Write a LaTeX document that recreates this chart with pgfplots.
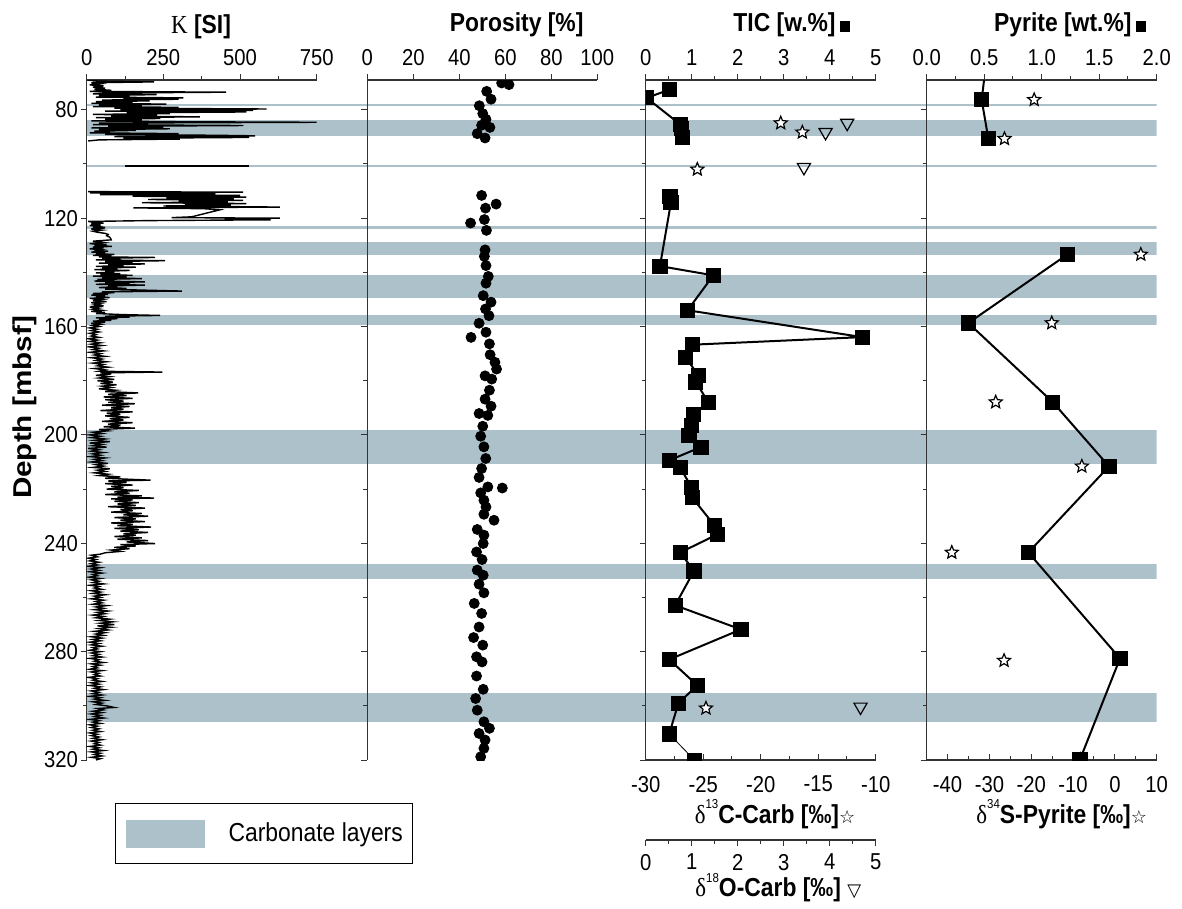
\documentclass[border=0pt]{standalone}
\usepackage{fontspec}
\setmainfont{Liberation Sans}[FakeStretch=0.88]
\newfontfamily\serifK{Liberation Serif}[FakeStretch=0.88]
\newfontfamily\depthfont{Liberation Sans}[FakeStretch=1.15]
\newfontfamily\symf{DejaVu Sans}
\usepackage{pgfplots}
\usepackage{pgfplotstable}
\pgfplotsset{compat=1.18}
\definecolor{bandcol}{RGB}{173,193,202}
\newcommand{\tickfont}{\fontsize{11.5}{12}\selectfont}
\newcommand{\titlefont}{\fontsize{13}{15}\selectfont\bfseries}
\newcommand{\sq}{\rule{5pt}{5.5pt}}
\newcommand{\supnum}[1]{\raisebox{1.05ex}{\fontsize{6.5}{6.5}\selectfont\mdseries #1}}
\newcommand{\dlt}{{\mdseries\serifK δ}}

\pgfdeclareplotmark{ostar}{%
 \pgfpathmoveto{\pgfpointpolar{90}{\pgfplotmarksize}}%
 \pgfpathlineto{\pgfpointpolar{126}{0.45\pgfplotmarksize}}%
 \pgfpathlineto{\pgfpointpolar{162}{\pgfplotmarksize}}%
 \pgfpathlineto{\pgfpointpolar{198}{0.45\pgfplotmarksize}}%
 \pgfpathlineto{\pgfpointpolar{234}{\pgfplotmarksize}}%
 \pgfpathlineto{\pgfpointpolar{270}{0.45\pgfplotmarksize}}%
 \pgfpathlineto{\pgfpointpolar{306}{\pgfplotmarksize}}%
 \pgfpathlineto{\pgfpointpolar{342}{0.45\pgfplotmarksize}}%
 \pgfpathlineto{\pgfpointpolar{18}{\pgfplotmarksize}}%
 \pgfpathlineto{\pgfpointpolar{54}{0.45\pgfplotmarksize}}%
 \pgfpathclose
 \pgfusepathqfillstroke
}

% ---------------- data ----------------
\pgfplotstableread{
d k
69.0 2
69.4 40
69.7 220
70.0 15
70.4 45
70.8 10
71.2 55
71.6 20
72.0 60
72.4 25
72.8 80
73.2 10
73.5 455
73.8 60
74.1 20
74.4 228
74.7 40
75.0 140
75.3 30
75.6 315
75.9 120
76.1 300
76.4 50
76.7 205
77.0 30
77.3 150
77.6 15
77.9 260
78.2 40
78.5 180
78.8 20
79.1 300
79.4 90
79.7 587
80.0 110
80.2 543
80.5 60
80.8 521
81.1 130
81.4 271
81.7 20
82.0 230
82.3 80
82.6 369
82.9 30
83.2 240
83.5 60
83.8 180
84.1 15
84.4 300
84.6 750
84.9 40
85.2 200
85.5 20
85.8 511
86.1 70
86.4 250
86.7 15
87.0 271
87.3 40
87.6 160
87.9 25
88.2 76
88.5 10
88.8 300
89.1 60
89.4 420
89.6 549
89.9 90
90.2 530
90.5 120
90.8 304
91.1 40
91.5 5
}\Ka
\pgfplotstableread{
d k
100.8 125
100.8 530
}\Kb
\pgfplotstableread{
d k
110.2 5
110.4 510
110.7 11
111.0 420
111.3 43
111.6 500
111.9 150
112.2 521
112.5 260
112.8 480
113.1 200
113.4 510
113.7 300
114.0 460
114.3 180
114.6 521
114.9 320
115.2 470
115.5 250
115.9 630
116.2 152
116.5 380
116.9 435
119.5 342
119.8 277
120.0 630
120.3 450
120.6 600
120.9 200
121.2 5
121.5 20
121.8 55
122.1 15
122.4 45
122.7 10
123.0 40
123.3 20
123.6 60
124.0 15
124.4 50
124.8 20
125.2 35
125.6 60
126.0 70
126.5 65
127.0 75
127.5 78
128.0 80
128.5 20
129.0 55
129.4 10
129.8 65
130.1 25
130.4 82
130.7 20
131.0 55
131.3 10
131.6 45
131.9 25
132.2 70
132.5 15
132.8 60
133.1 30
133.4 90
133.7 20
134.0 80
134.3 40
134.5 223
134.8 50
135.1 110
135.4 30
135.7 256
136.0 60
136.3 150
136.6 40
136.9 190
137.2 70
137.5 120
137.8 30
138.1 160
138.4 50
138.7 100
139.0 25
139.3 140
139.6 60
139.9 90
140.2 30
140.5 110
140.8 45
141.1 150
141.4 20
141.7 130
142.0 50
142.3 180
142.6 35
142.9 90
143.2 25
143.5 190
143.8 60
144.1 140
144.4 30
144.7 190
145.0 70
145.3 100
145.6 40
145.9 130
146.2 60
146.6 200
146.9 310
147.2 50
147.5 90
147.8 20
148.1 70
148.4 15
148.7 60
149.0 30
149.3 75
149.6 10
150.0 50
150.4 20
150.8 65
151.2 15
151.6 45
152.0 25
152.4 55
152.8 10
153.2 40
153.6 20
154.0 50
154.4 15
154.8 60
155.2 30
155.6 120
155.9 239
156.2 60
156.5 140
156.8 30
157.1 100
157.4 40
157.7 80
158.0 20
158.4 60
158.8 15
159.2 45
159.6 20
160.0 40
160.5 10
161.0 35
161.5 15
162.0 40
162.5 10
163.0 30
163.5 15
164.0 40
164.5 5
165.0 35
165.5 10
166.0 45
166.5 15
167.0 50
167.5 8
168.0 40
168.5 20
169.0 55
169.5 10
170.0 45
170.5 25
171.0 60
171.5 15
172.0 50
172.5 30
173.0 65
173.5 20
174.0 55
174.5 35
175.0 70
175.5 25
176.0 60
176.5 40
176.8 247
177.1 45
177.5 80
178.0 30
178.5 75
179.0 40
179.5 90
180.0 35
180.5 85
181.0 45
181.5 97
182.0 50
182.5 80
183.0 40
183.5 95
184.0 60
184.5 168
185.0 70
185.5 130
186.0 55
186.5 150
187.0 60
187.5 120
188.0 70
188.5 157
189.0 50
189.5 140
190.0 80
190.5 120
191.0 45
191.5 150
192.0 65
192.5 110
193.0 60
193.5 140
194.0 75
194.5 120
195.0 50
195.5 150
196.0 70
196.5 110
197.0 55
197.5 157
198.0 40
198.5 70
199.0 20
199.5 50
200.0 10
200.5 45
201.0 15
201.5 60
202.0 25
202.5 75
203.0 10
203.5 50
204.0 20
204.5 65
205.0 5
205.5 40
206.0 15
206.5 55
207.0 20
207.5 45
208.0 10
208.5 60
209.0 25
209.5 50
210.0 15
210.5 70
211.0 30
211.5 55
212.0 20
212.5 75
213.0 35
213.5 60
214.0 25
214.5 70
215.0 40
215.5 110
216.0 60
216.7 208
217.0 70
217.5 130
218.0 60
218.5 150
219.0 80
219.5 120
220.0 65
220.5 170
221.0 90
221.5 140
222.0 60
222.5 180
223.0 100
223.3 220
223.6 80
224.0 150
224.5 90
225.0 170
225.5 100
226.0 160
226.5 70
227.0 190
227.5 110
228.0 150
228.5 80
229.0 180
229.5 120
230.0 200
230.5 90
231.0 160
231.5 110
232.0 190
232.5 80
233.0 150
233.5 100
234.0 210
234.5 90
235.0 170
235.5 110
236.0 200
236.5 120
237.0 160
237.5 90
238.0 180
238.5 100
239.0 200
239.5 130
240.1 223
240.5 110
241.0 160
241.5 90
242.0 140
242.5 80
243.0 110
243.5 60
244.0 45
244.4 15
245.0 35
245.5 5
246.0 30
246.5 10
247.0 40
247.5 15
248.0 35
248.5 5
249.0 45
249.5 15
250.0 40
250.5 10
251.0 50
251.5 20
252.0 35
252.5 8
253.0 45
253.5 15
254.0 40
254.5 20
255.0 55
255.5 10
256.0 40
256.5 25
257.0 50
257.5 15
258.0 45
258.5 20
259.0 60
259.5 25
260.0 45
260.5 15
261.0 55
261.5 30
262.0 50
262.5 20
263.0 65
263.5 30
264.0 55
264.5 25
265.0 70
265.5 35
266.0 60
266.5 20
267.0 55
267.5 30
268.0 75
268.5 40
269.0 85
269.5 45
270.0 90
270.5 35
271.0 80
271.5 40
272.0 70
272.5 25
273.0 60
273.5 30
274.0 55
274.5 15
275.0 50
275.5 20
276.0 45
276.5 10
277.0 40
277.5 15
278.0 50
278.5 20
279.0 35
279.5 10
280.0 45
280.5 15
281.0 40
281.5 20
282.0 50
282.5 10
283.0 40
283.5 25
284.0 55
284.5 15
285.0 45
285.5 20
286.0 35
286.5 10
287.0 50
287.5 15
288.0 40
288.5 25
289.0 45
289.5 5
290.0 35
290.5 20
291.0 50
291.5 15
292.0 40
292.5 10
293.0 45
293.5 25
294.0 55
294.5 15
295.0 40
295.5 20
296.0 50
296.5 10
297.0 45
297.5 25
298.0 60
298.5 20
299.0 50
299.5 30
300.0 65
300.6 90
301.0 35
301.5 55
302.0 20
302.5 50
303.0 15
303.5 45
304.0 25
304.5 55
305.0 10
305.5 40
306.0 20
306.5 45
307.0 10
307.5 35
308.0 15
308.5 40
309.0 20
309.5 45
310.0 10
310.5 35
311.0 15
311.5 40
312.0 20
312.5 50
313.0 15
313.5 40
314.0 25
314.5 45
315.0 10
315.5 40
316.0 20
316.5 55
317.0 15
317.5 45
318.0 25
318.5 50
319.0 15
319.5 45
320.0 30
}\Kc

\pgfplotstableread{
d p
70.1 58.4
70.7 61.6
73.2 51.9
76.1 53.8
78.5 48.7
81.4 50.2
83.5 51.6
85.7 49.7
86.5 53.3
88.8 47.8
90.4 51.2
111.6 49.7
114.8 56.0
116.3 51.4
120.5 50.9
121.8 44.9
124.5 51.8
131.7 51.2
134.1 50.9
137.5 51.6
141.5 52.6
144.0 51.6
148.6 50.4
151.0 53.8
153.5 51.4
156.0 52.9
158.8 48.6
162.1 51.6
164.0 45.1
166.4 53.1
170.4 53.4
173.2 55.5
175.7 56.2
178.2 51.2
179.4 54.1
183.5 53.1
186.8 51.2
189.4 53.8
192.1 48.6
192.8 52.4
196.8 50.2
200.5 49.3
204.4 50.7
208.7 51.5
212.4 49.7
215.7 48.6
219.2 52.4
219.6 58.7
221.4 49.3
224.1 50.7
226.6 51.6
229.3 50.7
231.5 55.1
234.9 47.8
237.0 50.7
240.1 50.4
243.2 47.5
246.0 49.9
249.9 47.8
251.8 50.4
255.1 48.6
258.3 50.7
262.2 46.5
265.9 49.7
270.9 48.6
274.8 46.2
277.6 50.2
281.9 47.5
283.8 49.9
289.0 47.5
293.9 50.4
297.3 47.1
301.6 47.8
305.9 50.7
308.3 53.1
310.2 48.6
312.6 51.2
315.7 50.7
318.8 49.3
}\Por

\pgfplotstableread{
d t
72.6 0.51
75.6 0.02
85.4 0.75
87.0 0.77
90.1 0.80
}\TICa
\pgfplotstableread{
d t
111.9 0.53
114.1 0.55
137.7 0.31
141.1 1.47
154.0 0.91
163.9 4.71
166.7 1.01
171.3 0.87
178.0 1.14
180.5 1.09
187.9 1.36
192.4 1.04
196.5 0.99
200.1 0.94
204.5 1.20
209.4 0.51
212.1 0.75
219.4 1.00
223.1 1.01
233.3 1.49
236.7 1.56
243.4 0.75
250.2 1.05
262.9 0.64
271.8 2.07
282.9 0.51
292.4 1.12
299.1 0.71
310.4 0.51
}\TICb
\pgfplotstableread{
d t
310.4 0.51
320.0 1.06
}\TICc
\pgfplotstableread{
d c
84.9 -18.26
88.3 -16.38
102.0 -25.51
300.9 -24.76
}\Cthirteen
\pgfplotstableread{
d o
84.9 4.38
88.3 3.91
101.2 3.44
300.4 4.67
}\Oeighteen
\pgfplotstableread{
d py
65.0 0.51
76.3 0.478
90.7 0.536
}\Pya
\pgfplotstableread{
d py
133.4 1.223
158.7 0.362
187.9 1.096
211.6 1.585
243.4 0.884
282.5 1.681
319.8 1.333
}\Pyb
\pgfplotstableread{
d s
76.3 -19.3
90.7 -26.4
133.4 6.2
158.7 -15.1
187.9 -28.5
211.6 -7.9
243.4 -39.0
283.3 -26.5
319.8 -8.3
}\Sthirtyfour

\pgfplotsset{
  base/.style={scale only axis, width=115pt, height=340pt, ymin=69, ymax=320,
    y dir=reverse, anchor=north west, clip marker paths=true,
    axis line style={black!80, line width=0.6pt, -},
    tick style={black!80, line width=0.5pt},
    major tick length=3pt, minor tick length=2pt, tick align=outside,
    /pgf/number format/assume math mode=true,
    ticklabel style={font=\tickfont}},
  leftax/.style={axis y line*=left, axis x line*=top,
    ytick={80,120,...,320}, minor ytick={100,140,...,300}, yticklabels={},
    xticklabel style={yshift=0.7pt}},
  botax/.style={axis x line*=bottom, axis y line=none, tick align=inside,
    xticklabel style={yshift=-4.5pt}},
}

\begin{document}
\begin{tikzpicture}
\useasboundingbox (0,0) rectangle (591pt,-454.5pt);

% carbonate bands across all panels
\begin{axis}[base, at={(43.35pt,-40pt)}, width=535pt, xmin=0, xmax=1, hide axis,
  legend style={at={(0.02645,-0.0632)}, anchor=north west, draw=black, line width=0.6pt,
    fill=white, inner xsep=5pt, inner ysep=8pt, font=\fontsize{13}{15}\selectfont,
    /tikz/column sep=12pt, nodes={inner sep=0pt}},
  legend image code/.code={\fill[bandcol] (0pt,-7pt) rectangle (39.5pt,7pt);}]
\addplot[fill=bandcol, draw=none] coordinates {(0,83.7) (1,83.7) (1,89.5) (0,89.5)};
\addlegendentry{Carbonate layers}
\addplot[fill=bandcol, draw=none, forget plot] coordinates {(0,77.8) (1,77.8) (1,78.6) (0,78.6)};
\addplot[fill=bandcol, draw=none, forget plot] coordinates {(0,100.4) (1,100.4) (1,101.2) (0,101.2)};
\addplot[fill=bandcol, draw=none, forget plot] coordinates {(0,122.8) (1,122.8) (1,124.1) (0,124.1)};
\addplot[fill=bandcol, draw=none, forget plot] coordinates {(0,128.8) (1,128.8) (1,133.5) (0,133.5)};
\addplot[fill=bandcol, draw=none, forget plot] coordinates {(0,141.1) (1,141.1) (1,149.3) (0,149.3)};
\addplot[fill=bandcol, draw=none, forget plot] coordinates {(0,155.9) (1,155.9) (1,159.3) (0,159.3)};
\addplot[fill=bandcol, draw=none, forget plot] coordinates {(0,198.3) (1,198.3) (1,210.8) (0,210.8)};
\addplot[fill=bandcol, draw=none, forget plot] coordinates {(0,247.5) (1,247.5) (1,253.0) (0,253.0)};
\addplot[fill=bandcol, draw=none, forget plot] coordinates {(0,295.4) (1,295.4) (1,306.1) (0,306.1)};
\end{axis}

% Panel 1: K
\begin{axis}[base, leftax, at={(43.35pt,-40pt)}, xmin=0, xmax=750,
  xtick={0,250,500,750}, minor xtick={125,375,625},
  yticklabels={80,120,160,200,240,280,320}, yticklabel style={xshift=2.1pt}]
\addplot[black, line width=0.7pt] table[x=k,y=d] {\Ka};
\addplot[black, line width=0.7pt] table[x=k,y=d] {\Kb};
\addplot[black, line width=0.7pt] table[x=k,y=d] {\Kc};
\end{axis}

% Panel 2: Porosity
\begin{axis}[base, leftax, at={(183.65pt,-40pt)}, xmin=0, xmax=100,
  xtick={0,20,...,100}]
\addplot[only marks, mark=*, mark size=2.5pt, black] table[x=p,y=d] {\Por};
\end{axis}

% Panel 3 bottom: d13C
\begin{axis}[base, botax, at={(322.85pt,-40pt)}, xmin=-30, xmax=-10,
  xtick={-30,-25,...,-10}, xticklabels={-30,-25,-20,-15,-10},
  minor xtick={-27.5,-22.5,-17.5,-12.5}]
\addplot[only marks, mark=ostar, mark size=3.4pt, mark options={fill=white, draw=black, line width=0.6pt}] table[x=c,y=d] {\Cthirteen};
\end{axis}
% Panel 3: TIC (top) + d18O (same scale)
\begin{axis}[base, leftax, at={(322.85pt,-40pt)}, xmin=0, xmax=5,
  xtick={0,...,5}, minor xtick={0.5,1.5,...,4.5}]
\addplot[black, line width=1pt, mark=square*, mark size=3.3pt] table[x=t,y=d] {\TICa};
\addplot[black, line width=1pt, mark=square*, mark size=3.3pt] table[x=t,y=d] {\TICb};
\addplot[black, line width=0.4pt, mark=square*, mark size=3.3pt, mark indices={2}] table[x=t,y=d] {\TICc};
\addplot[only marks, mark=triangle, mark size=3.8pt, mark options={rotate=180, fill=white, draw=black, line width=0.6pt}] table[x=o,y=d] {\Oeighteen};
\end{axis}
% Panel 3 extra bottom axis: d18O
\begin{axis}[base, at={(322.85pt,-420pt)}, anchor=south west, height=10pt,
  ymin=0, ymax=1, axis x line*=bottom, axis y line=none, xmin=0, xmax=5,
  xtick={0,...,5}, minor xtick={0.5,1.5,...,4.5}, xticklabel style={yshift=-0.5pt}]
\addplot[draw=none] coordinates {(0,0.5)};
\end{axis}

% Panel 4 bottom: d34S
\begin{axis}[base, botax, at={(463.35pt,-40pt)}, xmin=-45, xmax=10,
  xtick={-40,-30,...,10}, xticklabels={-40,-30,-20,-10,0,10},
  minor xtick={-45,-35,...,5}]
\addplot[only marks, mark=ostar, mark size=3.4pt, mark options={fill=white, draw=black, line width=0.6pt}] table[x=s,y=d] {\Sthirtyfour};
\end{axis}
% Panel 4: Pyrite
\begin{axis}[base, leftax, at={(463.35pt,-40pt)}, xmin=0, xmax=2,
  xtick={0,0.5,...,2}, minor xtick={0.25,0.75,1.25,1.75},
  xticklabel style={/pgf/number format/.cd, fixed, fixed zerofill, precision=1}]
\addplot[black, line width=1pt, mark=square*, mark size=3.3pt] table[x=py,y=d] {\Pya};
\addplot[black, line width=1pt, mark=square*, mark size=3.3pt] table[x=py,y=d] {\Pyb};
\end{axis}

% titles
\node[anchor=base, font=\titlefont] at (100.5pt,-16.65pt) {{\mdseries\serifK K} [SI]};
\node[anchor=base, font=\titlefont] at (258.35pt,-15.85pt) {Porosity [\%]};
\node[anchor=base, font=\titlefont] at (395.85pt,-15.85pt) {TIC [w.\%]\,\sq};
\node[anchor=base, font=\titlefont] at (535pt,-15.85pt) {Pyrite [wt.\%]\,\sq};
\node[anchor=base, font=\titlefont] at (387.5pt,-411.65pt) {\dlt\supnum{13}C-Carb [‰]{\symf\bfseries\fontsize{9}{9}\selectfont ☆}};
\node[anchor=base, font=\titlefont] at (389.15pt,-448.35pt) {\dlt\supnum{18}O-Carb [‰] {\symf\fontsize{9}{9}\selectfont ▽}};
\node[anchor=base, font=\titlefont] at (530.85pt,-411.65pt) {\dlt\supnum{34}S-Pyrite [‰]{\symf\bfseries\fontsize{9}{9}\selectfont ☆}};
\node[anchor=base, rotate=90, font={\fontsize{12.9}{14}\selectfont\depthfont\bfseries}] at (15.85pt,-203.75pt) {Depth [mbsf]};
\end{tikzpicture}
\end{document}
